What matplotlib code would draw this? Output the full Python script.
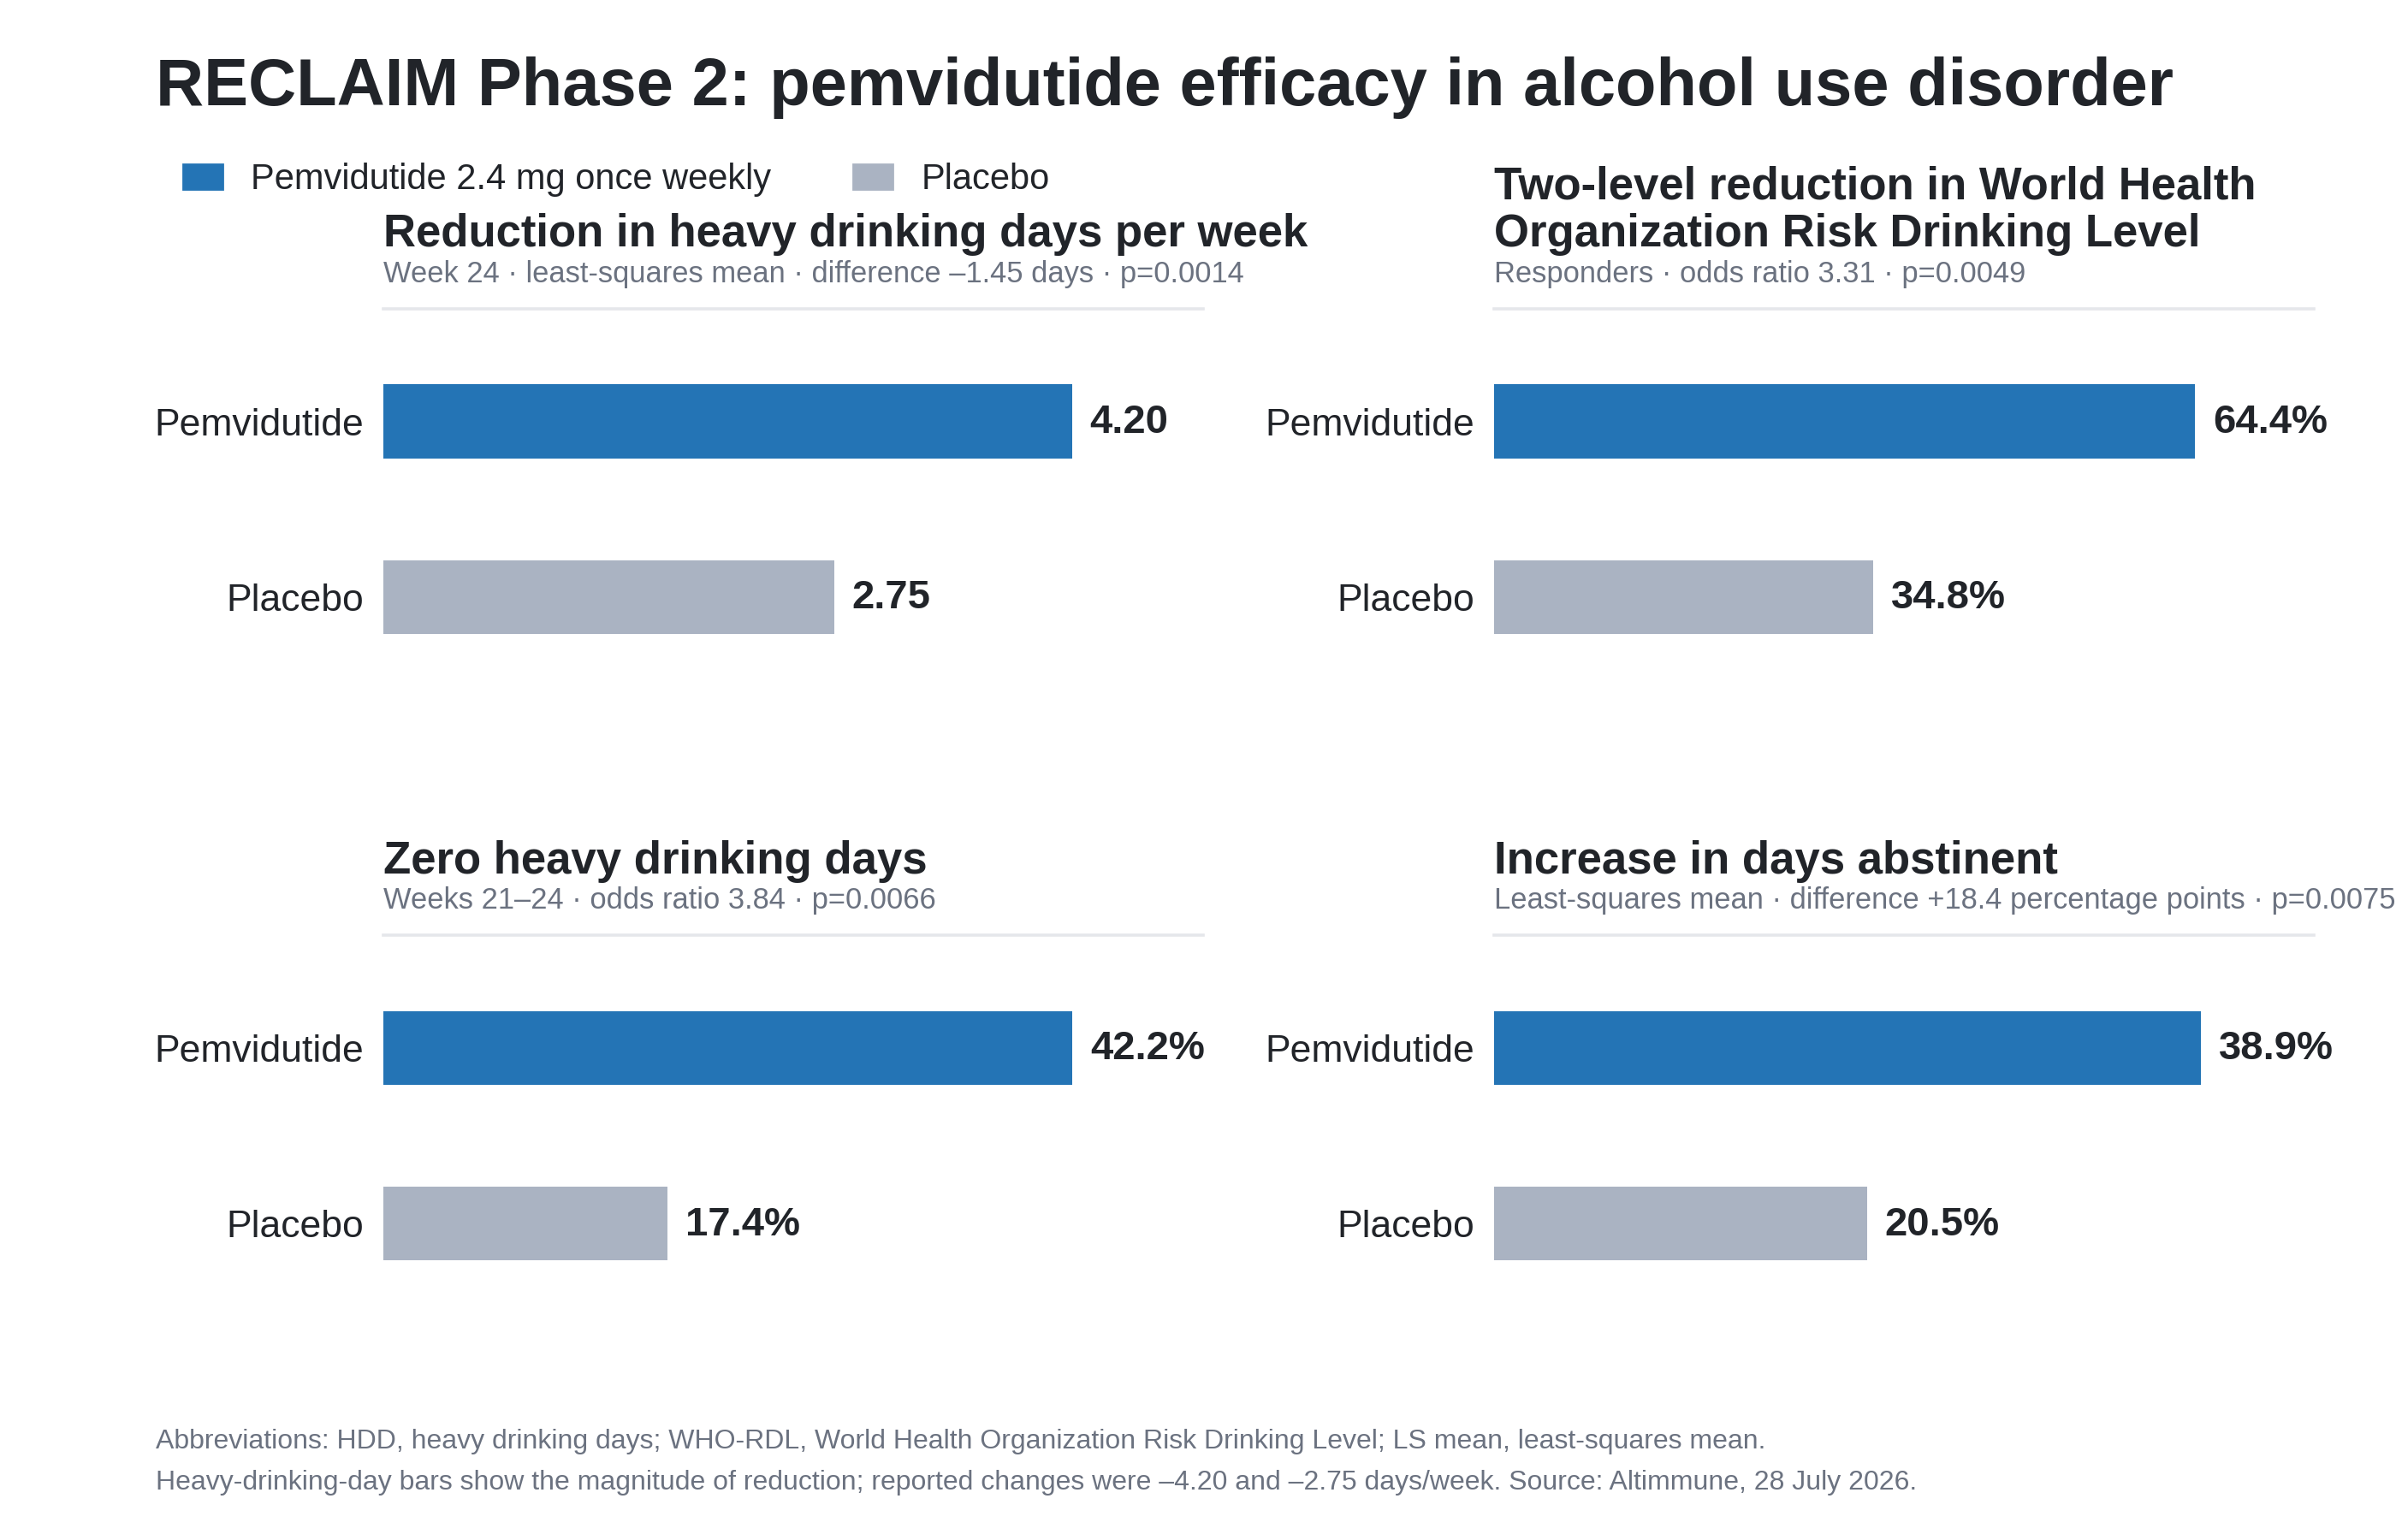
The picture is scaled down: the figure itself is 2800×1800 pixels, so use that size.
import matplotlib
matplotlib.use('Agg')
import matplotlib.pyplot as plt
from matplotlib.patches import Patch

plt.rcParams['font.family'] = ['Liberation Sans', 'DejaVu Sans']

# data
groups = ['Pemvidutide', 'Placebo']
panel_titles = ['Reduction in heavy drinking days per week',
                'Two-level reduction in World Health\nOrganization Risk Drinking Level',
                'Zero heavy drinking days',
                'Increase in days abstinent']
panel_subtitles = ['Week 24 · least-squares mean · difference \u20131.45 days · p=0.0014',
                   'Responders · odds ratio 3.31 · p=0.0049',
                   'Weeks 21\u201324 · odds ratio 3.84 · p=0.0066',
                   'Least-squares mean · difference +18.4 percentage points · p=0.0075']
pemv_values = [4.20, 64.4, 42.2, 38.9]
placebo_values = [2.75, 34.8, 17.4, 20.5]
value_fmt = ['{:.2f}', '{:.1f}%', '{:.1f}%', '{:.1f}%']
x_max = [5.0, 75.3, 50.2, 45.1]
legend_labels = ['Pemvidutide 2.4 mg once weekly', 'Placebo']
title = 'RECLAIM Phase 2: pemvidutide efficacy in alcohol use disorder'
footer = ['Abbreviations: HDD, heavy drinking days; WHO-RDL, World Health Organization Risk Drinking Level; LS mean, least-squares mean.',
          'Heavy-drinking-day bars show the magnitude of reduction; reported changes were \u20134.20 and \u20132.75 days/week. Source: Altimmune, 28 July 2026.']

BLUE = '#2474b5'
GREY = '#aab3c2'
DARK = '#212429'
MUTED = '#6b7280'
RULE = '#e5e7eb'

fig = plt.figure(figsize=(14, 9), dpi=200)

fig.text(0.065, 0.9315, title, fontsize=28, fontweight='bold', color=DARK, va='baseline', ha='left')

handles = [Patch(color=BLUE), Patch(color=GREY)]
fig.legend(handles, legend_labels, loc='center left', bbox_to_anchor=(0.0765, 0.8835),
           ncol=2, frameon=False, fontsize=15, handlelength=1.1, handleheight=0.7,
           handletextpad=0.8, columnspacing=2.3, borderpad=0, borderaxespad=0,
           labelcolor=DARK)

lefts = [0.1601, 0.6237, 0.1601, 0.6237]
bottoms = [0.5437, 0.5437, 0.1369, 0.1369]

for i in range(4):
    ax = fig.add_axes([lefts[i], bottoms[i], 0.3420, 0.256])
    vals = [pemv_values[i], placebo_values[i]]
    ax.barh([0, 1], vals, height=0.42, color=[BLUE, GREY])
    ax.set_xlim(0, x_max[i])
    ax.set_ylim(1.6, -0.643)
    ax.set_yticks([0, 1])
    ax.set_yticklabels(groups, fontsize=16, color=DARK)
    ax.tick_params(axis='y', length=0, pad=8.5)
    ax.set_xticks([])
    for s in ['left', 'right', 'bottom']:
        ax.spines[s].set_visible(False)
    ax.spines['top'].set_color(RULE)
    ax.spines['top'].set_linewidth(1.3)
    for j, v in enumerate(vals):
        ax.annotate(value_fmt[i].format(v), (v, j), xytext=(7.5, -0.5), textcoords='offset points',
                    va='center', ha='left', fontsize=17, fontweight='bold', color=DARK)
    ax.annotate(panel_titles[i], (0, 1), xycoords='axes fraction', xytext=(0, 22),
                textcoords='offset points', va='bottom', ha='left', fontsize=19,
                fontweight='bold', color=DARK, linespacing=1.14)
    ax.annotate(panel_subtitles[i], (0, 1), xycoords='axes fraction', xytext=(0, 8.4),
                textcoords='offset points', va='bottom', ha='left', fontsize=12.45,
                color=MUTED, annotation_clip=False)

fig.text(0.065, 0.0595, footer[0], fontsize=11.5, color=MUTED, va='baseline', ha='left')
fig.text(0.065, 0.0327, footer[1], fontsize=11.5, color=MUTED, va='baseline', ha='left')

fig.savefig('out.png', dpi=200, facecolor='white')
